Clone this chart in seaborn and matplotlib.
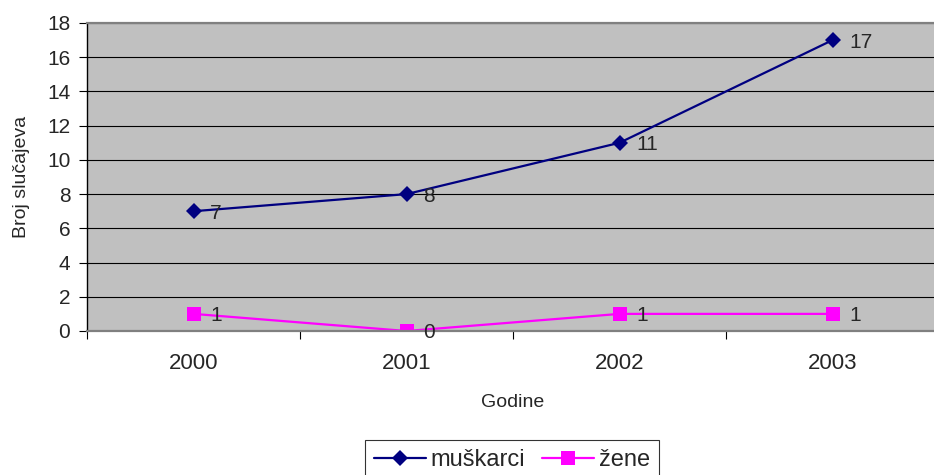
import pandas as pd
import matplotlib.pyplot as plt
import seaborn as sns

# chart values
years = ['2000', '2001', '2002', '2003']
muskarci = [7, 8, 11, 17]
zene = [1, 0, 1, 1]

df = pd.DataFrame({
    'pos': list(range(len(years))) * 2,
    'value': muskarci + zene,
    'serija': ['muškarci'] * len(years) + ['žene'] * len(years),
})

sns.set_style('white')
plt.rcParams['font.family'] = ['Liberation Sans', 'DejaVu Sans']

fig = plt.figure(figsize=(9.34, 4.75), dpi=100)
ax = fig.add_axes([87 / 934, 144 / 475, 852 / 934, 308 / 475])
ax.set_facecolor('#C0C0C0')

palette = {'muškarci': '#000080', 'žene': '#FF00FF'}
sns.lineplot(data=df[df.serija == 'muškarci'], x='pos', y='value',
             color=palette['muškarci'], marker='D', markersize=8,
             linewidth=1.6, markeredgewidth=0, label='muškarci', ax=ax)
sns.lineplot(data=df[df.serija == 'žene'], x='pos', y='value',
             color=palette['žene'], marker='s', markersize=10.5,
             linewidth=1.6, markeredgewidth=0, label='žene', ax=ax)

# data labels
for i, v in enumerate(muskarci):
    ax.annotate(str(v), (i, v), xytext=(12, 0), textcoords='offset points',
                va='center_baseline', ha='left', fontsize=15)
for i, v in enumerate(zene):
    ax.annotate(str(v), (i, v), xytext=(12, 0), textcoords='offset points',
                va='center_baseline', ha='left', fontsize=15)

ax.set_ylim(0, 18)
ax.set_yticks(range(0, 19, 2))
ax.set_xlim(-0.5, 3.5)
ax.set_xticks(range(len(years)))
ax.set_xticklabels(years)
ax.set_xticks([-0.5, 0.5, 1.5, 2.5, 3.5], minor=True)
ax.tick_params(axis='x', which='major', length=0, labelsize=16, pad=16)
ax.tick_params(axis='x', which='minor', length=6, width=0.8, color='black', bottom=True)
ax.tick_params(axis='y', length=6, width=0.8, color='black', labelsize=15, pad=6, left=True)
ax.grid(axis='y', color='black', linewidth=0.8)
ax.set_axisbelow(True)

ax.spines['left'].set_color('black')
ax.spines['left'].set_linewidth(1)
ax.spines['bottom'].set_color('#808080')
ax.spines['bottom'].set_linewidth(1.6)
ax.spines['top'].set_color('#808080')
ax.spines['top'].set_linewidth(1.6)
ax.spines['right'].set_visible(False)

ax.set_xlabel('Godine', fontsize=14, labelpad=14)
ax.set_ylabel('Broj slučajeva', fontsize=14, labelpad=12)

handles, labels = ax.get_legend_handles_labels()
ax.legend_.remove()
leg = fig.legend(handles, labels, loc='center', bbox_to_anchor=(512 / 934, 15 / 475),
                 ncol=2, fontsize=17, frameon=True, fancybox=False,
                 handlelength=2.2, handletextpad=0.2, columnspacing=0.7,
                 borderpad=0.4, borderaxespad=0)
leg.get_frame().set_edgecolor('black')
leg.get_frame().set_linewidth(0.8)

fig.savefig('out.png', dpi=100)
